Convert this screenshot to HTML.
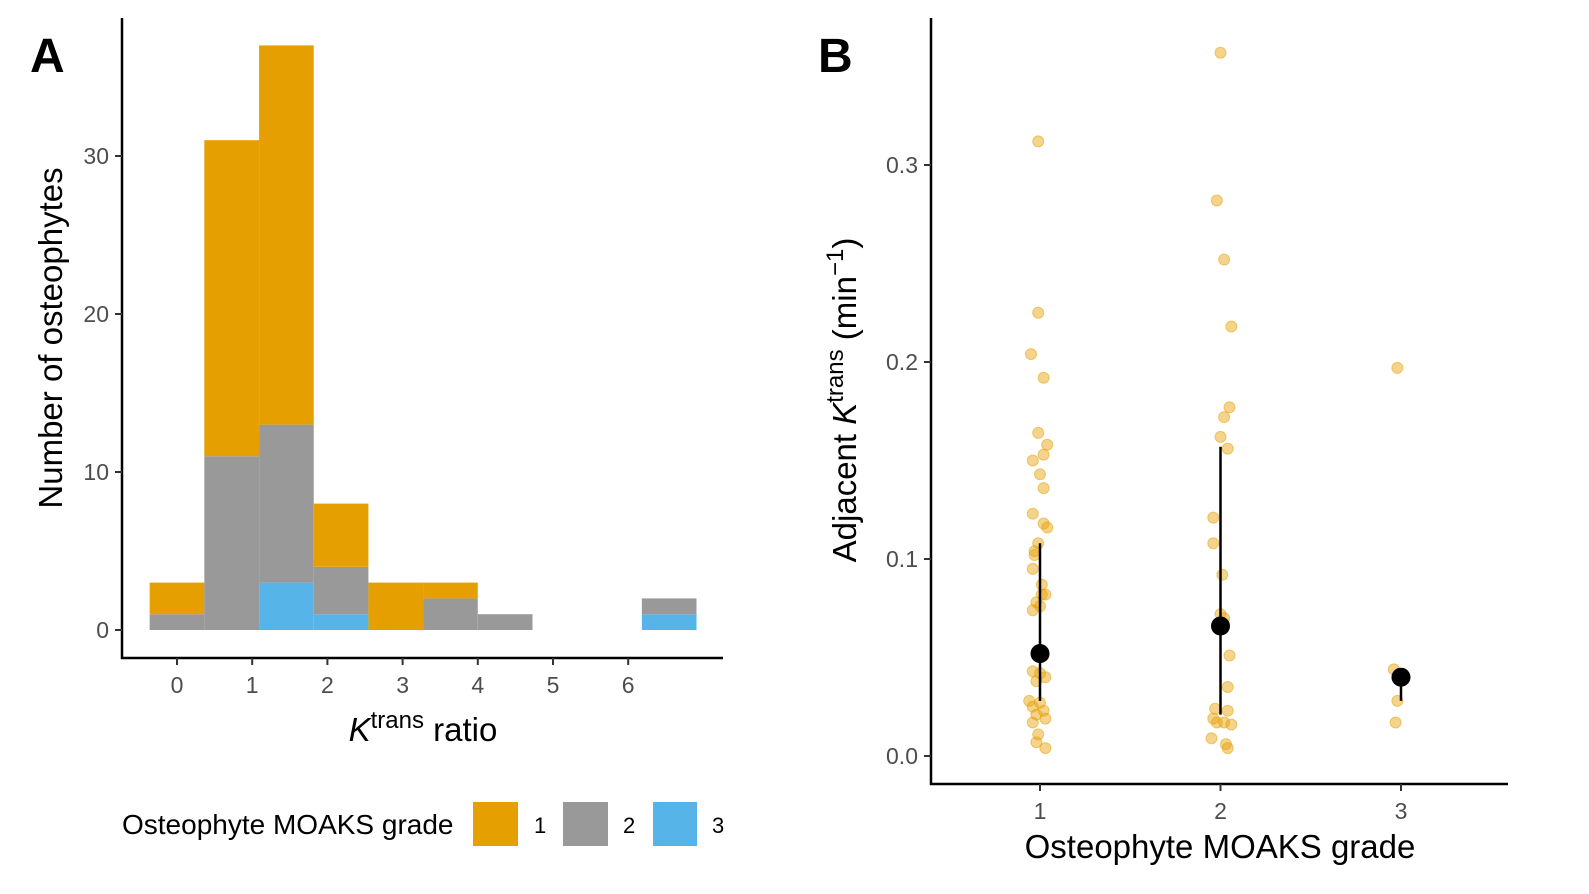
<!DOCTYPE html>
<html><head><meta charset="utf-8"><style>
body{margin:0;background:#fff;}
svg{display:block;font-family:"Liberation Sans",sans-serif;}
</style></head><body>
<svg id="c" width="1589" height="894" viewBox="0 0 1589 894">
<text x="30" y="72" font-size="48" font-weight="bold">A</text>
<text x="818" y="72" font-size="48" font-weight="bold">B</text>
<g id="ga"></g>
<g id="gb"></g>
<g>
<text x="122" y="834" font-size="28" fill="#000">Osteophyte MOAKS grade</text>
<rect x="473" y="802" width="45" height="44" fill="#E69F00"/>
<text x="534" y="833" font-size="22">1</text>
<rect x="563" y="802" width="45" height="44" fill="#999999"/>
<text x="623" y="833" font-size="22">2</text>
<rect x="653" y="802" width="44" height="44" fill="#56B4E9"/>
<text x="712" y="833" font-size="22">3</text>
</g>
</svg>
<script>
const NS="http://www.w3.org/2000/svg";
const binCenters=[0,0.727,1.455,2.182,2.909,3.636,4.364,5.091,5.818,6.545];
const grade3Counts=[0,0,3,1,0,0,0,0,0,1];
const grade2Counts=[1,11,10,3,0,2,1,0,0,1];
const grade1Counts=[2,20,24,4,3,1,0,0,0,0];
const xTicksA=[0,1,2,3,4,5,6];
const yTicksA=[0,10,20,30];
const grade1Values=[0.312,0.225,0.204,0.192,0.164,0.158,0.153,0.150,0.143,0.136,0.123,0.118,0.116,0.108,0.104,0.102,0.095,0.087,0.082,0.082,0.078,0.076,0.074,0.051,0.043,0.042,0.040,0.038,0.028,0.027,0.025,0.023,0.021,0.019,0.017,0.011,0.007,0.004];
const grade1Jitter=[-0.01,-0.01,-0.05,0.02,-0.01,0.04,0.02,-0.04,0,0.02,-0.04,0.02,0.04,-0.01,-0.03,-0.03,-0.04,0.01,0.03,0.01,-0.02,0,-0.04,0.02,-0.04,0,0.03,-0.02,-0.06,0,-0.04,0.02,-0.02,0.03,-0.04,-0.01,-0.02,0.03];
const grade2Values=[0.357,0.282,0.252,0.218,0.177,0.172,0.162,0.156,0.121,0.108,0.092,0.072,0.070,0.051,0.035,0.024,0.023,0.019,0.017,0.017,0.016,0.009,0.006,0.004];
const grade2Jitter=[0,-0.02,0.02,0.06,0.05,0.02,0,0.04,-0.04,-0.04,0.01,0,0.02,0.05,0.04,-0.03,0.04,-0.04,-0.02,0.02,0.06,-0.05,0.03,0.04];
const grade3Values=[0.197,0.044,0.040,0.028,0.017];
const grade3Jitter=[-0.02,-0.04,-0.02,-0.02,-0.03];
const grades=[1,2,3];
const means=[0.052,0.066,0.040];
const lower=[0.028,0.021,0.028];
const upper=[0.108,0.157,0.040];
const yTicksB=[0,0.1,0.2,0.3];

function el(p,t,a,txt){const e=document.createElementNS(NS,t);for(const k in a)e.setAttribute(k,a[k]);if(txt!==undefined)e.textContent=txt;p.appendChild(e);return e;}
// Panel A
const ga=document.getElementById('ga');
const xA=v=>177+v*75.2, yA=v=>630-v*15.8, bw=0.727;
const cols=["#56B4E9","#999999","#E69F00"];
const series=[grade3Counts,grade2Counts,grade1Counts];
binCenters.forEach((c,i)=>{let base=0;series.forEach((s,j)=>{if(s[i]>0){const r=el(ga,'rect',{x:xA(c-bw/2),y:yA(base+s[i]),width:xA(c+bw/2)-xA(c-bw/2),height:yA(base)-yA(base+s[i]),fill:cols[j]});

}base+=s[i];});});
el(ga,'line',{x1:122,y1:18,x2:122,y2:659,stroke:'#000','stroke-width':2.5});
el(ga,'line',{x1:121,y1:658,x2:723,y2:658,stroke:'#000','stroke-width':2.5});
xTicksA.forEach(t=>{el(ga,'line',{x1:xA(t),y1:658,x2:xA(t),y2:665,stroke:'#333','stroke-width':2});
const tx=el(ga,'text',{x:xA(t),y:693,'font-size':23,fill:'#4d4d4d','text-anchor':'middle'},t);

});
yTicksA.forEach(t=>{el(ga,'line',{x1:115,y1:yA(t),x2:122,y2:yA(t),stroke:'#333','stroke-width':2});
const tx=el(ga,'text',{x:109,y:yA(t)+8,'font-size':23,fill:'#4d4d4d','text-anchor':'end'},t);

});
const xt=el(ga,'text',{x:423,y:741,'font-size':33,'text-anchor':'middle'});
xt.innerHTML='<tspan font-style="italic">K</tspan><tspan dy="-13" font-size="24">trans</tspan><tspan dy="13"> ratio</tspan>';


const yt=el(ga,'text',{x:0,y:0,'font-size':33,'text-anchor':'middle',transform:'translate(62,338) rotate(-90)'},'Number of osteophytes');


// Panel B
const gb=document.getElementById('gb');
const xB=g=>1040+(g-1)*180.5, yB=v=>756-v*1970;
[[grade1Values,grade1Jitter,1],[grade2Values,grade2Jitter,2],[grade3Values,grade3Jitter,3]].forEach(([vals,jit,g])=>{vals.forEach((v,i)=>{const c=el(gb,'circle',{cx:xB(g+jit[i]),cy:yB(v),r:5.5,fill:'#E69F00','fill-opacity':0.45,stroke:'#E69F00','stroke-opacity':0.5,'stroke-width':1});

});});
grades.forEach((g,i)=>{const l=el(gb,'line',{x1:xB(g),y1:yB(lower[i]),x2:xB(g),y2:yB(upper[i]),stroke:'#000','stroke-width':2.5});


const c=el(gb,'circle',{cx:xB(g),cy:yB(means[i]),r:9.5,fill:'#000'});

});
el(gb,'line',{x1:931,y1:18,x2:931,y2:785,stroke:'#000','stroke-width':2.5});
el(gb,'line',{x1:930,y1:784,x2:1508,y2:784,stroke:'#000','stroke-width':2.5});
grades.forEach(g=>{el(gb,'line',{x1:xB(g),y1:784,x2:xB(g),y2:791,stroke:'#333','stroke-width':2});
const tx=el(gb,'text',{x:xB(g),y:819,'font-size':23,fill:'#4d4d4d','text-anchor':'middle'},g);

});
yTicksB.forEach(t=>{el(gb,'line',{x1:924,y1:yB(t),x2:931,y2:yB(t),stroke:'#333','stroke-width':2});
const tx=el(gb,'text',{x:918,y:yB(t)+8,'font-size':23,fill:'#4d4d4d','text-anchor':'end'},t.toFixed(1));

});
const xtb=el(gb,'text',{x:1220,y:858,'font-size':33,'text-anchor':'middle'},'Osteophyte MOAKS grade');


const ytb=el(gb,'text',{x:0,y:0,'font-size':33,'text-anchor':'middle',transform:'translate(856,400) rotate(-90)'});
ytb.innerHTML='Adjacent <tspan font-style="italic">K</tspan><tspan dy="-13" font-size="24">trans</tspan><tspan dy="13"> (min</tspan><tspan dy="-13" font-size="24">−1</tspan><tspan dy="13">)</tspan>';


</script>
</body></html>
